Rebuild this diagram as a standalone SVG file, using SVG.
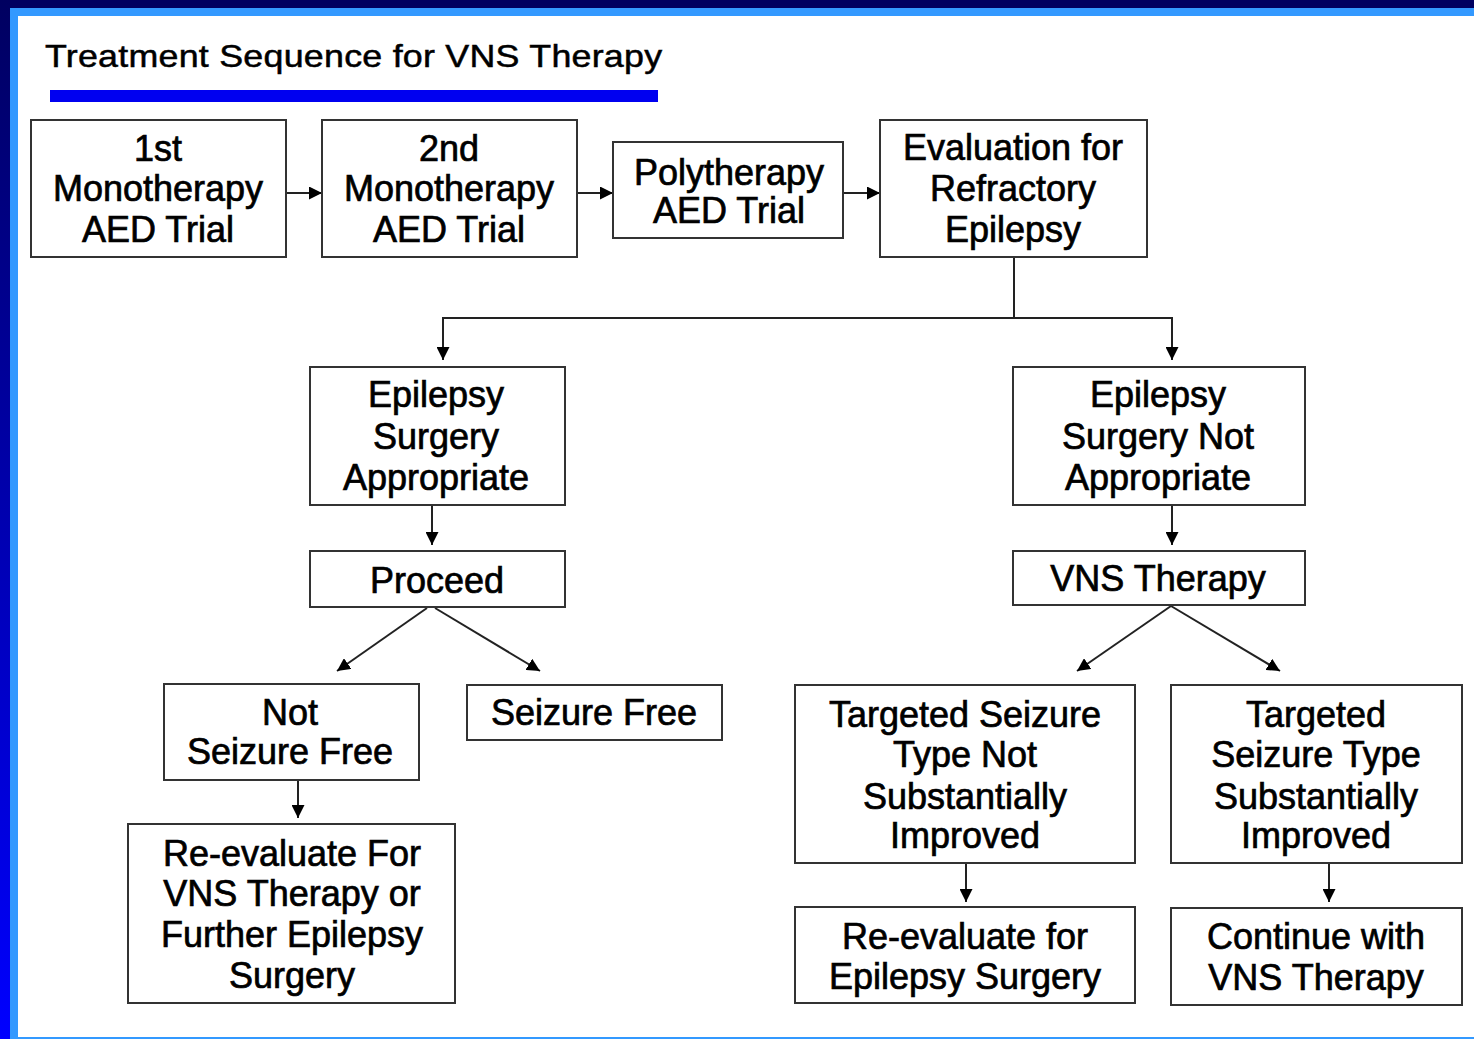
<svg xmlns="http://www.w3.org/2000/svg" width="1474" height="1039" viewBox="0 0 1474 1039">
<defs>
<linearGradient id="lg" x1="0" y1="0" x2="0" y2="1">
<stop offset="0" stop-color="#000060"/>
<stop offset="1" stop-color="#0000FF"/>
</linearGradient>
<marker id="ah" viewBox="0 0 12 12" refX="12" refY="6" markerWidth="13" markerHeight="13" markerUnits="userSpaceOnUse" orient="auto">
<path d="M0,0 L12,6 L0,12 Z" fill="#000"/>
</marker>
<style>
.box{fill:#fff;stroke:#333;stroke-width:2}
.t{font-family:"Liberation Sans",Arial,sans-serif;font-size:36px;fill:#000;stroke:#000;stroke-width:0.7;text-anchor:middle}
.ttl{font-family:"Liberation Sans",Arial,sans-serif;font-size:32px;fill:#000;stroke:#000;stroke-width:0.5}
.c{fill:none;stroke:#222;stroke-width:2}
.a{fill:none;stroke:#222;stroke-width:2;marker-end:url(#ah)}
</style>
</defs>
<rect x="0" y="0" width="1474" height="1039" fill="#fff"/>
<rect x="0" y="0" width="1474" height="8" fill="#000060"/>
<rect x="0" y="0" width="10" height="1039" fill="url(#lg)"/>
<rect x="10" y="8" width="1464" height="8" fill="#3399FF"/>
<rect x="10" y="8" width="8" height="1031" fill="#3399FF"/>
<rect x="10" y="1037" width="1464" height="2" fill="#3399FF"/>

<g id="title">
<text class="ttl" x="0" y="67" transform="translate(45,0) scale(1.12,1)" textLength="551" lengthAdjust="spacing">Treatment Sequence for VNS Therapy</text>
<rect x="50" y="90" width="608" height="12" fill="#0000F0"/>
</g>

<g id="connectors">
<line class="a" x1="286" y1="193" x2="322" y2="193"/>
<line class="a" x1="577" y1="193" x2="613" y2="193"/>
<line class="a" x1="843" y1="193" x2="880" y2="193"/>
<polyline class="c" points="1014,257 1014,318"/>
<polyline class="a" points="1014,318 443,318 443,360"/>
<polyline class="a" points="1014,318 1172,318 1172,360"/>
<line class="a" x1="432" y1="505" x2="432" y2="545"/>
<line class="a" x1="1172" y1="505" x2="1172" y2="545"/>
<line class="a" x1="427" y1="608" x2="337" y2="671"/>
<line class="a" x1="435" y1="608" x2="540" y2="671"/>
<line class="a" x1="1171" y1="606" x2="1077" y2="671"/>
<line class="a" x1="1171" y1="606" x2="1280" y2="671"/>
<line class="a" x1="298" y1="780" x2="298" y2="818"/>
<line class="a" x1="966" y1="863" x2="966" y2="902"/>
<line class="a" x1="1329" y1="863" x2="1329" y2="902"/>
</g>

<g id="n1"><rect class="box" x="31" y="120" width="255" height="137"/>
<text class="t" x="158" y="161">1st</text><text class="t" x="158" y="201">Monotherapy</text><text class="t" x="158" y="242">AED Trial</text></g>
<g id="n2"><rect class="box" x="322" y="120" width="255" height="137"/>
<text class="t" x="449" y="161">2nd</text><text class="t" x="449" y="201">Monotherapy</text><text class="t" x="449" y="242">AED Trial</text></g>
<g id="n3"><rect class="box" x="613" y="142" width="230" height="96"/>
<text class="t" x="729" y="185">Polytherapy</text><text class="t" x="729" y="223">AED Trial</text></g>
<g id="n4"><rect class="box" x="880" y="120" width="267" height="137"/>
<text class="t" x="1013" y="160">Evaluation for</text><text class="t" x="1013" y="201">Refractory</text><text class="t" x="1013" y="242">Epilepsy</text></g>
<g id="n5"><rect class="box" x="310" y="367" width="255" height="138"/>
<text class="t" x="436" y="407">Epilepsy</text><text class="t" x="436" y="449">Surgery</text><text class="t" x="436" y="490">Appropriate</text></g>
<g id="n6"><rect class="box" x="1013" y="367" width="292" height="138"/>
<text class="t" x="1158" y="407">Epilepsy</text><text class="t" x="1158" y="449">Surgery Not</text><text class="t" x="1158" y="490">Appropriate</text></g>
<g id="n7"><rect class="box" x="310" y="551" width="255" height="56"/>
<text class="t" x="437" y="593">Proceed</text></g>
<g id="n8"><rect class="box" x="1013" y="551" width="292" height="54"/>
<text class="t" x="1158" y="591">VNS Therapy</text></g>
<g id="n9"><rect class="box" x="164" y="684" width="255" height="96"/>
<text class="t" x="290" y="725">Not</text><text class="t" x="290" y="764">Seizure Free</text></g>
<g id="n10"><rect class="box" x="467" y="685" width="255" height="55"/>
<text class="t" x="594" y="725">Seizure Free</text></g>
<g id="n11"><rect class="box" x="795" y="685" width="340" height="178"/>
<text class="t" x="965" y="727">Targeted Seizure</text><text class="t" x="965" y="767">Type Not</text><text class="t" x="965" y="809">Substantially</text><text class="t" x="965" y="848">Improved</text></g>
<g id="n12"><rect class="box" x="1171" y="685" width="291" height="178"/>
<text class="t" x="1316" y="727">Targeted</text><text class="t" x="1316" y="767">Seizure Type</text><text class="t" x="1316" y="809">Substantially</text><text class="t" x="1316" y="848">Improved</text></g>
<g id="n13"><rect class="box" x="128" y="824" width="327" height="179"/>
<text class="t" x="292" y="866">Re-evaluate For</text><text class="t" x="292" y="906">VNS Therapy or</text><text class="t" x="292" y="947">Further Epilepsy</text><text class="t" x="292" y="988">Surgery</text></g>
<g id="n14"><rect class="box" x="795" y="907" width="340" height="96"/>
<text class="t" x="965" y="949">Re-evaluate for</text><text class="t" x="965" y="989">Epilepsy Surgery</text></g>
<g id="n15"><rect class="box" x="1171" y="908" width="291" height="97"/>
<text class="t" x="1316" y="949">Continue with</text><text class="t" x="1316" y="990">VNS Therapy</text></g>
</svg>
